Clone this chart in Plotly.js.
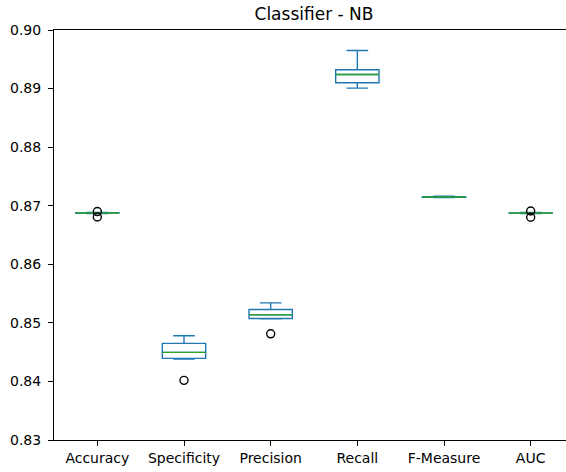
<!DOCTYPE html>
<html>
<head>
<meta charset="utf-8">
<script src="https://cdn.plot.ly/plotly-3.0.1.min.js"></script>
<style>
html, body { margin: 0; padding: 0; overflow: hidden; background: #fff; }
#chart { width: 576px; height: 472px; }
</style>
</head>
<body>
<div id="chart"></div>
<script>
const categories = ['Accuracy', 'Specificity', 'Precision', 'Recall', 'F-Measure', 'AUC'];
const lowerWhisker = [0.86866, 0.84381, 0.85068, 0.89008, 0.87138, 0.86866];
const q1 = [0.86873, 0.84393, 0.85075, 0.89100, 0.87145, 0.86873];
const median = [0.86876, 0.84496, 0.85137, 0.89241, 0.87149, 0.86875];
const q3 = [0.86879, 0.84649, 0.85229, 0.89322, 0.87153, 0.86878];
const upperWhisker = [0.86885, 0.84779, 0.85341, 0.89651, 0.87162, 0.86884];
const outlierCategory = ['Accuracy', 'Accuracy', 'Specificity', 'Precision', 'AUC', 'AUC'];
const outlierValue = [0.86900, 0.86808, 0.84018, 0.84813, 0.86910, 0.86803];
const yTicks = [0.83, 0.84, 0.85, 0.86, 0.87, 0.88, 0.89, 0.90];

const font = 'DejaVu Sans, sans-serif';
const traces = [];

// boxes
traces.push({
  type: 'box',
  x: categories,
  q1: q1, median: median, q3: q3,
  lowerfence: lowerWhisker, upperfence: upperWhisker,
  width: 0.5,
  whiskerwidth: 0.5,
  boxpoints: false,
  fillcolor: 'rgba(0,0,0,0)',
  line: { color: '#1f77b4', width: 1.4 },
  hoverinfo: 'skip'
});
// median lines (green)
traces.push({
  type: 'box',
  x: categories,
  q1: median, median: median, q3: median,
  lowerfence: median, upperfence: median,
  width: 0.5,
  whiskerwidth: 0,
  boxpoints: false,
  fillcolor: 'rgba(0,0,0,0)',
  line: { color: '#2ca02c', width: 1.4 },
  hoverinfo: 'skip'
});
// outliers
traces.push({
  type: 'scatter',
  mode: 'markers',
  x: outlierCategory,
  y: outlierValue,
  marker: { symbol: 'circle-open', size: 8, color: '#000', line: { width: 1.4, color: '#000' } },
  hoverinfo: 'skip'
});

const layout = {
  width: 576,
  height: 472,
  margin: { l: 54, r: 2, t: 30, b: 32 },
  paper_bgcolor: '#fff',
  plot_bgcolor: '#fff',
  showlegend: false,
  boxmode: 'overlay',
  title: {
    text: 'Classifier - NB',
    font: { family: font, size: 17, color: '#000' },
    xref: 'paper', x: 0.5, xanchor: 'center',
    yref: 'container', y: 0.971, yanchor: 'middle'
  },
  xaxis: {
    type: 'category',
    categoryorder: 'array',
    categoryarray: categories,
    range: [-0.5, 5.5],
    showgrid: false,
    zeroline: false,
    showline: true, mirror: true, linecolor: '#000', linewidth: 1,
    ticks: 'outside', ticklen: 5, tickwidth: 1, tickcolor: '#000',
    tickfont: { family: font, size: 14, color: '#000' }
  },
  yaxis: {
    range: [0.83, 0.90],
    tickvals: yTicks,
    ticktext: yTicks.map(v => v.toFixed(2)),
    showgrid: false,
    zeroline: false,
    showline: true, mirror: true, linecolor: '#000', linewidth: 1,
    ticks: 'outside', ticklen: 5, tickwidth: 1, tickcolor: '#000',
    ticklabelstandoff: 4,
    tickfont: { family: font, size: 14, color: '#000' }
  }
};

Plotly.newPlot('chart', traces, layout, { staticPlot: true, displayModeBar: false });
</script>
</body>
</html>
